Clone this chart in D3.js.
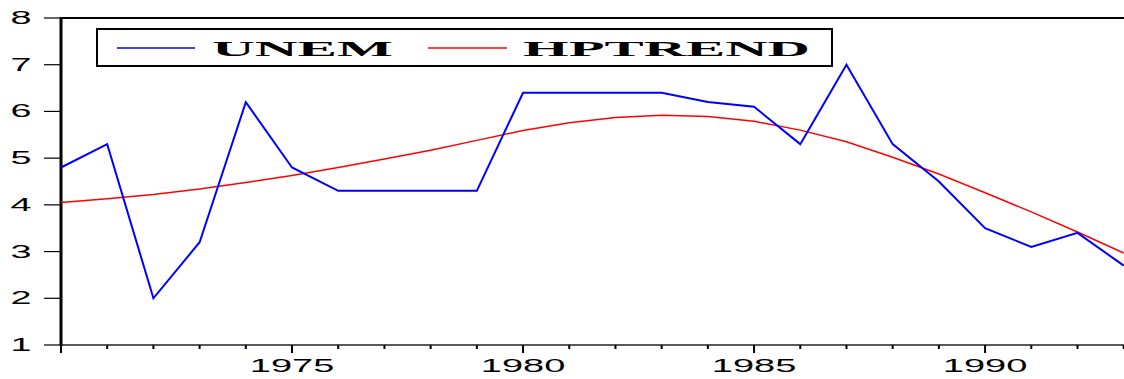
<!DOCTYPE html>
<html><head><meta charset="utf-8">
<script src="https://cdn.jsdelivr.net/npm/d3@7/dist/d3.min.js"></script>
<style>body{margin:0;background:#fff}svg{display:block}</style>
</head><body>
<svg id="c" width="1124" height="379"></svg>
<script>
const years = d3.range(1970, 1994);
const unem = [4.8,5.3,2.0,3.2,6.2,4.8,4.3,4.3,4.3,4.3,6.4,6.4,6.4,6.4,6.2,6.1,5.3,7.0,5.3,4.5,3.5,3.1,3.4,2.7];
const hptrend = [4.05,4.13,4.22,4.34,4.48,4.63,4.80,4.98,5.17,5.38,5.59,5.76,5.87,5.92,5.89,5.79,5.60,5.35,5.02,4.66,4.26,3.85,3.42,2.97];
const yTicks = [1,2,3,4,5,6,7,8];
const xTickLabels = [1975,1980,1985,1990];
const seriesNames = ["UNEM","HPTREND"];
const colors = ["#0000ff","#ff0000"];

const svg = d3.select("#c");
const L = 61, R = 1126, T = 18, B = 345;
const x = d3.scaleLinear().domain([1970,1993]).range([L, R - 2.3]);
const y = d3.scaleLinear().domain([1,8]).range([B, T]);

// top border
svg.append("line").attr("x1",L).attr("x2",1124).attr("y1",T).attr("y2",T)
  .attr("stroke","#000").attr("stroke-width",2);

// y ticks
const yg = svg.append("g");
yTicks.forEach(v=>{
  yg.append("line").attr("x1",44).attr("x2",L).attr("y1",y(v)).attr("y2",y(v))
    .attr("stroke","#000").attr("stroke-width",1.2);
  const t = yg.append("text").attr("x",0).attr("y",0)
    .attr("transform",`translate(21,${y(v)+6}) scale(2.1,1)`)
    .attr("text-anchor","middle")
    .attr("font-family","Liberation Sans, Arial, sans-serif").attr("font-size",18)
    .text(v);
});

// x axis
svg.append("line").attr("x1",L).attr("x2",1124).attr("y1",B).attr("y2",B)
  .attr("stroke","#222").attr("stroke-width",1.5);
years.forEach(yr=>{
  const major = yr % 5 === 0;
  svg.append("line").attr("x1",x(yr)).attr("x2",x(yr)).attr("y1",B).attr("y2",B+(major?8:4))
    .attr("stroke","#000").attr("stroke-width",2);
});
xTickLabels.forEach(yr=>{
  svg.append("text").attr("transform",`translate(${x(yr)},372) scale(2.0,1)`)
    .attr("text-anchor","middle")
    .attr("font-family","Liberation Sans, Arial, sans-serif").attr("font-size",19)
    .text(yr);
});

// left axis
svg.append("line").attr("x1",L).attr("x2",L).attr("y1",T-1).attr("y2",B+1)
  .attr("stroke","#000").attr("stroke-width",3);

// lines
const line = d3.line().x((d,i)=>x(years[i])).y(d=>y(d));
svg.append("path").datum(hptrend).attr("d",line).attr("fill","none")
  .attr("stroke",colors[1]).attr("stroke-width",1.5);
svg.append("path").datum(unem).attr("d",line).attr("fill","none")
  .attr("stroke",colors[0]).attr("stroke-width",2).attr("stroke-linejoin","miter");

// legend
svg.append("rect").attr("x",97).attr("y",29).attr("width",735).attr("height",37)
  .attr("fill","#fff").attr("stroke","#000").attr("stroke-width",2);
const leg = [
  {lx1:117, lx2:195, tx:212, tw:181},
  {lx1:428, lx2:507, tx:523, tw:287}
];
leg.forEach((g,i)=>{
  svg.append("line").attr("x1",g.lx1).attr("x2",g.lx2).attr("y1",48).attr("y2",48)
    .attr("stroke",colors[i]).attr("stroke-width",1.5);
  svg.append("text").attr("x",g.tx).attr("y",56)
    .attr("font-family","Liberation Serif, Times New Roman, serif").attr("font-weight","bold")
    .attr("font-size",22).attr("textLength",g.tw).attr("lengthAdjust","spacingAndGlyphs")
    .text(seriesNames[i]);
});
</script>
</body></html>
